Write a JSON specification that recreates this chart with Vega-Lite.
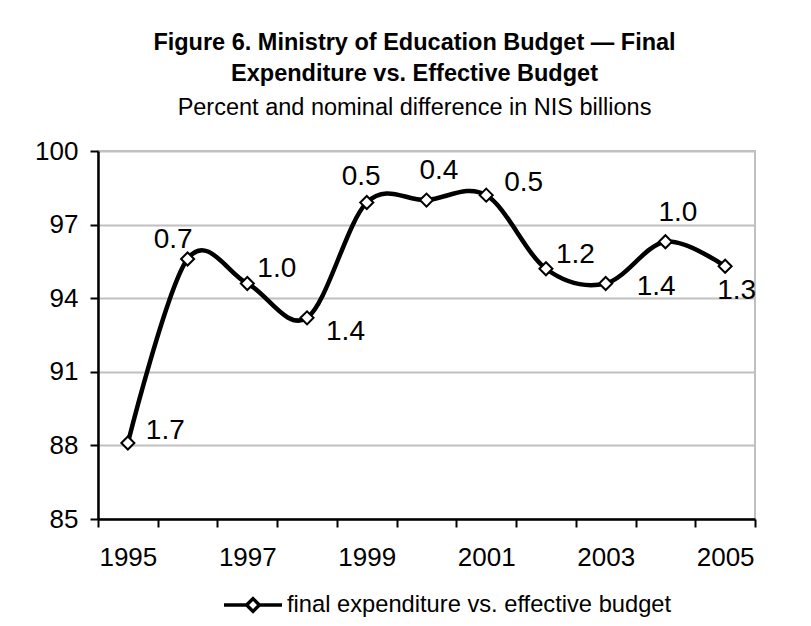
{
  "$schema": "https://vega.github.io/schema/vega-lite/v6.json",
  "autosize": "none",
  "width": 657,
  "height": 368,
  "padding": {"left": 98, "top": 151, "right": 56, "bottom": 107},
  "background": "white",
  "config": {
    "font": "Liberation Sans",
    "view": {"stroke": "#c0c0c0", "strokeWidth": 2}
  },
  "title": {
    "text": ["Figure 6. Ministry of Education Budget — Final", "Expenditure vs. Effective Budget"],
    "subtitle": "Percent and nominal difference in NIS billions",
    "anchor": "middle",
    "dx": -12,
    "fontSize": 23.5,
    "fontWeight": "bold",
    "lineHeight": 31,
    "color": "black",
    "subtitleFontSize": 23.5,
    "subtitleColor": "black",
    "subtitleLineHeight": 31,
    "subtitlePadding": 10,
    "offset": 19,
    "font": "Liberation Sans",
    "subtitleFont": "Liberation Sans"
  },
  "data": {
    "values": [
      {"year": 1995, "pct": 88.1, "diff": "1.7"},
      {"year": 1996, "pct": 95.6, "diff": "0.7"},
      {"year": 1997, "pct": 94.6, "diff": "1.0"},
      {"year": 1998, "pct": 93.2, "diff": "1.4"},
      {"year": 1999, "pct": 97.9, "diff": "0.5"},
      {"year": 2000, "pct": 98.0, "diff": "0.4"},
      {"year": 2001, "pct": 98.2, "diff": "0.5"},
      {"year": 2002, "pct": 95.2, "diff": "1.2"},
      {"year": 2003, "pct": 94.6, "diff": "1.4"},
      {"year": 2004, "pct": 96.3, "diff": "1.0"},
      {"year": 2005, "pct": 95.3, "diff": "1.3"}
    ]
  },
  "encoding": {
    "x": {
      "field": "year",
      "type": "ordinal",
      "scale": {"type": "band", "paddingInner": 0, "paddingOuter": 0},
      "axis": {
        "title": null,
        "labelAngle": 0,
        "tickBand": "extent",
        "labelExpr": "datum.value % 2 == 1 ? datum.label : ''",
        "labelFontSize": 26,
        "labelColor": "black",
        "labelPadding": 17,
        "tickSize": 8,
        "tickColor": "black",
        "tickWidth": 2,
        "domainColor": "black",
        "domainWidth": 2.5,
        "grid": false
      }
    },
    "y": {
      "field": "pct",
      "type": "quantitative",
      "scale": {"domain": [85, 100], "nice": false, "zero": false},
      "axis": {
        "title": null,
        "values": [85, 88, 91, 94, 97, 100],
        "labelFontSize": 26,
        "labelColor": "black",
        "labelPadding": 12,
        "tickSize": 8,
        "tickColor": "black",
        "tickWidth": 2,
        "domainColor": "black",
        "domainWidth": 2.5,
        "grid": true,
        "gridColor": "#c0c0c0",
        "gridWidth": 2
      }
    }
  },
  "layer": [
    {
      "mark": {"type": "line", "interpolate": "cardinal", "tension": 0, "strokeWidth": 4.5, "color": "black"},
      "encoding": {
        "color": {
          "datum": "final expenditure vs. effective budget",
          "type": "nominal",
          "scale": {"range": ["black"]},
          "legend": {
            "title": null,
            "orient": "none",
            "legendX": 124,
            "legendY": 423,
            "padding": 0,
            "labelFontSize": 23.7,
            "labelColor": "black",
            "labelOffset": 3,
            "labelLimit": 600,
            "symbolType": "M-1,0H-0.22M0.22,0H1M-0.22,0L0,-0.22L0.22,0L0,0.22Z",
            "symbolSize": 3364,
            "symbolStrokeWidth": 3.5,
            "symbolFillColor": "white",
            "symbolStrokeColor": "black"
          }
        }
      }
    },
    {
      "mark": {"type": "point", "shape": "diamond", "filled": true, "fill": "white", "stroke": "black", "strokeWidth": 2, "size": 170, "opacity": 1}
    },
    {
      "transform": [{"filter": {"field": "year", "oneOf": [1995, 2001]}}],
      "mark": {"type": "text", "align": "left", "baseline": "middle", "dx": 18, "dy": -12, "fontSize": 28, "color": "black"},
      "encoding": {"text": {"field": "diff"}}
    },
    {
      "transform": [{"filter": {"field": "year", "oneOf": [1996]}}],
      "mark": {"type": "text", "align": "right", "baseline": "middle", "dx": 5, "dy": -19, "fontSize": 28, "color": "black"},
      "encoding": {"text": {"field": "diff"}}
    },
    {
      "transform": [{"filter": {"field": "year", "oneOf": [1997, 2002]}}],
      "mark": {"type": "text", "align": "left", "baseline": "middle", "dx": 10, "dy": -14, "fontSize": 28, "color": "black"},
      "encoding": {"text": {"field": "diff"}}
    },
    {
      "transform": [{"filter": {"field": "year", "oneOf": [1998]}}],
      "mark": {"type": "text", "align": "left", "baseline": "middle", "dx": 19, "dy": 14, "fontSize": 28, "color": "black"},
      "encoding": {"text": {"field": "diff"}}
    },
    {
      "transform": [{"filter": {"field": "year", "oneOf": [1999]}}],
      "mark": {"type": "text", "align": "left", "baseline": "middle", "dx": -25, "dy": -26, "fontSize": 28, "color": "black"},
      "encoding": {"text": {"field": "diff"}}
    },
    {
      "transform": [{"filter": {"field": "year", "oneOf": [2000, 2004]}}],
      "mark": {"type": "text", "align": "left", "baseline": "middle", "dx": -7, "dy": -29, "fontSize": 28, "color": "black"},
      "encoding": {"text": {"field": "diff"}}
    },
    {
      "transform": [{"filter": {"field": "year", "oneOf": [2003]}}],
      "mark": {"type": "text", "align": "left", "baseline": "middle", "dx": 31, "dy": 4, "fontSize": 28, "color": "black"},
      "encoding": {"text": {"field": "diff"}}
    },
    {
      "transform": [{"filter": {"field": "year", "oneOf": [2005]}}],
      "mark": {"type": "text", "align": "left", "baseline": "middle", "dx": -8, "dy": 25, "fontSize": 28, "color": "black"},
      "encoding": {"text": {"field": "diff"}}
    }
  ]
}
